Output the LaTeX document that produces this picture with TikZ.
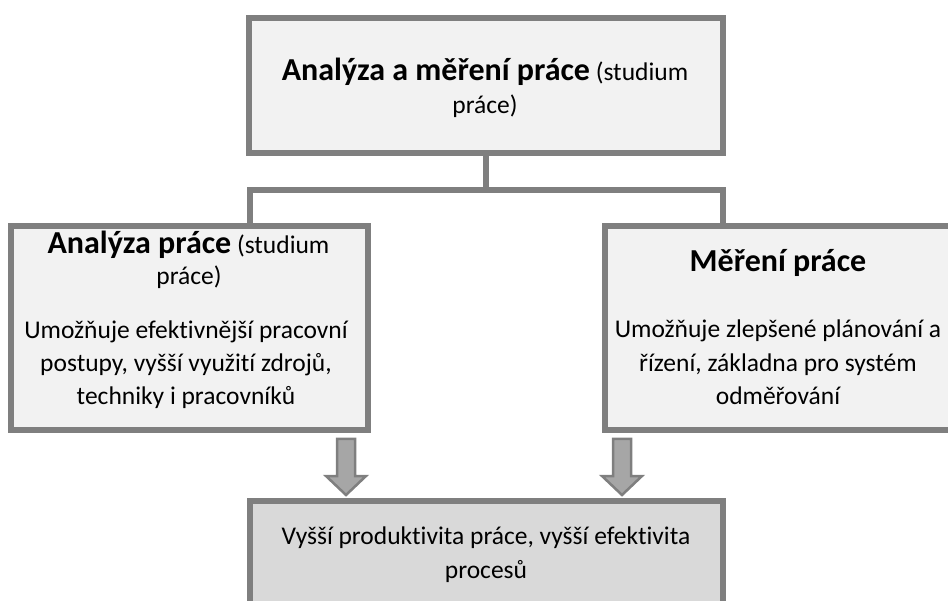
\documentclass[tikz,border=0pt]{standalone}
\usepackage{fontspec}
\setmainfont[Ligatures=NoCommon]{Carlito}
\definecolor{edge}{HTML}{7F7F7F}
\definecolor{paleface}{HTML}{F2F2F2}
\definecolor{darkface}{HTML}{D9D9D9}
\definecolor{arrowface}{HTML}{A6A6A6}
\newcommand{\headfont}{\fontsize{32}{38}\selectfont\bfseries}
\newcommand{\bodyfont}{\fontsize{25.5}{31}\selectfont}
\tikzset{
  box/.style={draw=edge, line width=6.5pt, rectangle, inner sep=0pt, outer sep=0pt},
  palebox/.style={box, fill=paleface},
  darkbox/.style={box, fill=darkface},
  link/.style={draw=edge, line width=6.5pt, line join=miter},
  blockarrow/.style={draw=edge, fill=arrowface, line width=2.5pt, line join=miter},
  txt/.style={anchor=base, inner sep=0pt, text=black}
}
\begin{document}
\begin{tikzpicture}[x=1pt, y=-1pt]
\useasboundingbox (0,0) rectangle (948,601);
\clip (0,0) rectangle (948,601);

% boxes
\node[palebox, minimum width=474pt, minimum height=135pt] (top) at (486,85.5) {};
\node[palebox, minimum width=357pt, minimum height=204pt] (left) at (189.5,328) {};
\node[palebox, minimum width=346pt, minimum height=204pt] (right) at (778,328) {};
\node[darkbox, minimum width=473pt, minimum height=160pt] (result) at (486.5,581) {};

% tree connector
\coordinate (hl) at (250,190);
\coordinate (hr) at (723,190);
\draw[link] (top.south) -- (top.south |- hl);
\draw[link] (hl |- left.north) -- (hl) -- (hr) -- (hr |- right.north);

% block arrows into the result box
\foreach \ax in {346, 622} {
  \begin{scope}[shift={(\ax,0)}]
    \draw[blockarrow] (-9,439) -- (9,439) -- (9,476) -- (20,476) -- (0,495)
      -- (-20,476) -- (-9,476) -- cycle;
  \end{scope}
}

% texts
\node[txt] (t1) at (485,81) {{\headfont Analýza a měření práce}{\bodyfont\ (studium}};
\node[txt] (t2) at (485,114) {\bodyfont práce)};

\node[txt] (l1) at (188.5,254) {{\headfont Analýza práce}{\bodyfont\ (studium}};
\node[txt] (l2) at (189,285) {\bodyfont práce)};
\node[txt] (l3) at (186,339) {\bodyfont Umožňuje efektivnější pracovní};
\node[txt] (l4) at (186,372) {\bodyfont postupy, vyšší využití zdrojů,};
\node[txt] (l5) at (186,405) {\bodyfont techniky i pracovníků};

\node[txt] (r1) at (778,272) {\headfont Měření práce};
\node[txt] (r2) at (778,338) {\bodyfont Umožňuje zlepšené plánování a};
\node[txt] (r3) at (778,371.5) {\bodyfont řízení, základna pro systém};
\node[txt] (r4) at (778,405) {\bodyfont odměřování};

\node[txt] (b1) at (486,544) {\bodyfont Vyšší produktivita práce, vyšší efektivita};
\node[txt] (b2) at (486,578) {\bodyfont procesů};
\end{tikzpicture}
\end{document}
